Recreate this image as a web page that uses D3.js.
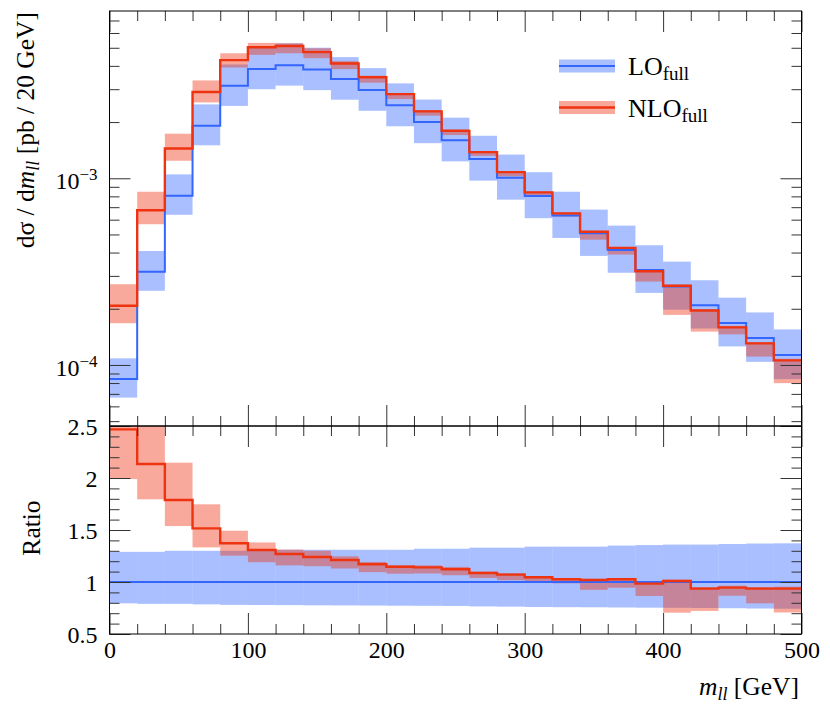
<!DOCTYPE html>
<html><head><meta charset="utf-8">
<script src="https://cdn.jsdelivr.net/npm/d3@7"></script>
<style>
body{margin:0;background:#fff}
svg text{font-family:"Liberation Serif","Times New Roman",serif;fill:#000}
</style>
</head><body>
<svg id="chart" width="830" height="708"></svg>
<script>
// ---- data ----
const binLow = [0,20,40,60,80,100,120,140,160,180,200,220,240,260,280,300,320,340,360,380,400,420,440,460,480];
const binWidth = 20;
const loValue = [8.41e-5,3.16e-4,8.07e-4,1.913e-3,3.13e-3,3.85e-3,4.03e-3,3.82e-3,3.40e-3,2.97e-3,2.46e-3,2.00e-3,1.60e-3,1.27e-3,1.007e-3,8.04e-4,6.32e-4,5.07e-4,4.13e-4,3.23e-4,2.63e-4,2.09e-4,1.68e-4,1.395e-4,1.13e-4];
// LO scale band, as ratio to LO central
const loUpRatio = [1.29,1.29,1.30,1.30,1.30,1.31,1.31,1.31,1.31,1.31,1.31,1.32,1.32,1.33,1.33,1.34,1.34,1.34,1.35,1.355,1.36,1.36,1.365,1.37,1.372];
const loDnRatio = [0.795,0.79,0.79,0.785,0.78,0.779,0.778,0.776,0.775,0.774,0.772,0.771,0.77,0.765,0.763,0.76,0.758,0.757,0.755,0.753,0.752,0.75,0.748,0.745,0.743];
// NLO central and band, as ratio to LO central
const nloRatio = [2.468,2.135,1.788,1.516,1.372,1.308,1.269,1.240,1.212,1.170,1.147,1.141,1.122,1.087,1.071,1.045,1.026,1.019,1.026,0.984,1.010,0.936,0.946,0.936,0.936];
const nloUpRatio = [3.22,2.68,2.147,1.747,1.493,1.38,1.312,1.30,1.247,1.193,1.161,1.16,1.145,1.10,1.085,1.055,1.035,1.03,1.035,0.995,1.022,0.95,0.965,0.95,0.955];
const nloDnRatio = [1.99,1.795,1.538,1.333,1.253,1.19,1.16,1.152,1.13,1.095,1.08,1.082,1.065,1.038,1.017,0.997,0.987,0.925,0.945,0.866,0.705,0.722,0.868,0.795,0.707];

const xMajorTicks = [0,100,200,300,400,500];
const xMinorTicks = [20,40,60,80,120,140,160,180,220,240,260,280,320,340,360,380,420,440,460,480];
const yTopMajor = [1e-4,1e-3];
const yTopMajorLabel = [["10","−4"],["10","−3"]];
const yTopMinor = [5e-5,6e-5,7e-5,8e-5,9e-5,2e-4,3e-4,4e-4,5e-4,6e-4,7e-4,8e-4,9e-4,2e-3,3e-3,4e-3,5e-3,6e-3,7e-3];
const yRatMajor = [0.5,1,1.5,2,2.5];
const yRatMinor = [0.6,0.7,0.8,0.9,1.1,1.2,1.3,1.4,1.6,1.7,1.8,1.9,2.1,2.2,2.3,2.4];
const legendNames = ["LO","NLO"];
const legendSub = "full";

// ---- styles ----
const blue = "#3366ff", red = "#ee3311";
const blueBand = "rgba(51,102,255,0.42)", redBand = "rgba(238,51,17,0.42)";
const fs = 24, fsTitle = 25.5;

const svg = d3.select("#chart");
const L = 109.5, R = 801.5, T1 = 11, B1 = 426, B2 = 634;
const x = d3.scaleLinear().domain([0,500]).range([L,R]);
const yTop = d3.scaleLog().domain([4.71e-5,7.87e-3]).range([B1,T1]);
const yRat = d3.scaleLinear().domain([0.5,2.5]).range([B2,B1]);

const defs = svg.append("defs");
defs.append("clipPath").attr("id","clipTop").append("rect").attr("x",L).attr("y",T1).attr("width",R-L).attr("height",B1-T1);
defs.append("clipPath").attr("id","clipRat").append("rect").attr("x",L).attr("y",B1).attr("width",R-L).attr("height",B2-B1);

const idx = d3.range(binLow.length);
function stepPts(vals){ const p = idx.map(i=>[binLow[i], vals[i]]); p.push([binLow[binLow.length-1]+binWidth, vals[vals.length-1]]); return p; }

// ---- top panel ----
const gTop = svg.append("g").attr("clip-path","url(#clipTop)");
gTop.selectAll("rect.lo").data(idx).join("rect")
  .attr("x",i=>x(binLow[i])).attr("width",i=>x(binLow[i]+binWidth)-x(binLow[i]))
  .attr("y",i=>yTop(loValue[i]*loUpRatio[i])).attr("height",i=>yTop(loValue[i]*loDnRatio[i])-yTop(loValue[i]*loUpRatio[i]))
  .attr("fill",blueBand);
gTop.selectAll("rect.nlo").data(idx).join("rect")
  .attr("x",i=>x(binLow[i])).attr("width",i=>x(binLow[i]+binWidth)-x(binLow[i]))
  .attr("y",i=>yTop(loValue[i]*nloUpRatio[i])).attr("height",i=>yTop(loValue[i]*nloDnRatio[i])-yTop(loValue[i]*nloUpRatio[i]))
  .attr("fill",redBand);
const lineTop = d3.line().x(d=>x(d[0])).y(d=>yTop(d[1])).curve(d3.curveStepAfter);
gTop.append("path").attr("d",lineTop(stepPts(loValue))).attr("fill","none").attr("stroke",blue).attr("stroke-width",2);
gTop.append("path").attr("d",lineTop(stepPts(idx.map(i=>loValue[i]*nloRatio[i])))).attr("fill","none").attr("stroke",red).attr("stroke-width",2.4);

// ---- ratio panel ----
const gRat = svg.append("g").attr("clip-path","url(#clipRat)");
gRat.selectAll("rect.lo").data(idx).join("rect")
  .attr("x",i=>x(binLow[i])).attr("width",i=>x(binLow[i]+binWidth)-x(binLow[i]))
  .attr("y",i=>yRat(loUpRatio[i])).attr("height",i=>yRat(loDnRatio[i])-yRat(loUpRatio[i]))
  .attr("fill",blueBand);
gRat.selectAll("rect.nlo").data(idx).join("rect")
  .attr("x",i=>x(binLow[i])).attr("width",i=>x(binLow[i]+binWidth)-x(binLow[i]))
  .attr("y",i=>yRat(nloUpRatio[i])).attr("height",i=>yRat(nloDnRatio[i])-yRat(nloUpRatio[i]))
  .attr("fill",redBand);
const lineRat = d3.line().x(d=>x(d[0])).y(d=>yRat(d[1])).curve(d3.curveStepAfter);
gRat.append("path").attr("d",lineRat(stepPts(idx.map(()=>1)))).attr("fill","none").attr("stroke",blue).attr("stroke-width",2);
gRat.append("path").attr("d",lineRat(stepPts(nloRatio))).attr("fill","none").attr("stroke",red).attr("stroke-width",2.4);

// ---- axes (inward ticks) ----
const tickCol = "#333";
function styleAxis(g){ g.select(".domain").remove(); g.selectAll(".tick line").attr("stroke",tickCol); g.attr("font-family",null).attr("font-size",fs); g.selectAll("text").attr("fill","#000"); return g; }
function ax(gen, tx, ty){ return styleAxis(svg.append("g").attr("transform",`translate(${tx},${ty})`).call(gen)); }
const MAJ = 21, MIN = 10;
[[T1,"top"],[B1,"bottom"],[B1,"top"],[B2,"bottom"]].forEach(([yy,side])=>{
  const mk = side==="top" ? d3.axisTop : d3.axisBottom;
  ax(mk(x).tickValues(xMajorTicks).tickSize(-MAJ).tickFormat(""), 0, yy);
  ax(mk(x).tickValues(xMinorTicks).tickSize(-MIN).tickFormat(""), 0, yy);
});
ax(d3.axisBottom(x).tickValues(xMajorTicks).tickSize(0).tickPadding(7).tickFormat(d3.format("d")), 0, B2);
ax(d3.axisLeft(yTop).tickValues(yTopMajor).tickSize(-MAJ).tickFormat(""), L, 0);
ax(d3.axisLeft(yTop).tickValues(yTopMinor).tickSize(-MIN).tickFormat(""), L, 0);
ax(d3.axisRight(yTop).tickValues(yTopMajor).tickSize(-MAJ).tickFormat(""), R, 0);
ax(d3.axisRight(yTop).tickValues(yTopMinor).tickSize(-MIN).tickFormat(""), R, 0);
const yl = ax(d3.axisLeft(yTop).tickValues(yTopMajor).tickSize(0).tickPadding(12).tickFormat(""), L, 0);
yl.selectAll(".tick text").each(function(d){
  const t = d3.select(this); const lab = yTopMajorLabel[yTopMajor.indexOf(d)];
  t.text(null).attr("dy","0.42em");
  t.append("tspan").text(lab[0]);
  t.append("tspan").attr("dy",-9).attr("font-size",17).text(lab[1]);
});
ax(d3.axisLeft(yRat).tickValues(yRatMajor).tickSize(-MAJ).tickFormat(""), L, 0);
ax(d3.axisLeft(yRat).tickValues(yRatMinor).tickSize(-MIN).tickFormat(""), L, 0);
ax(d3.axisRight(yRat).tickValues(yRatMajor).tickSize(-MAJ).tickFormat(""), R, 0);
ax(d3.axisRight(yRat).tickValues(yRatMinor).tickSize(-MIN).tickFormat(""), R, 0);
ax(d3.axisLeft(yRat).tickValues(yRatMajor).tickSize(0).tickPadding(12).tickFormat(d=>String(d)), L, 0)
  .selectAll(".tick text").attr("dy","0.36em");

svg.append("rect").attr("x",L).attr("y",T1).attr("width",R-L).attr("height",B1-T1).attr("fill","none").attr("stroke","#000").attr("stroke-width",1);
svg.append("rect").attr("x",L).attr("y",B1).attr("width",R-L).attr("height",B2-B1).attr("fill","none").attr("stroke","#000").attr("stroke-width",1);

// ---- axis titles ----
const yt = svg.append("text").attr("transform","translate(34,12) rotate(-90)").attr("text-anchor","end").attr("font-size",fsTitle);
yt.append("tspan").text("dσ / d");
yt.append("tspan").attr("font-style","italic").text("m");
yt.append("tspan").attr("font-style","italic").attr("font-size",18).attr("dy",5).text("ll");
yt.append("tspan").attr("dy",-5).text(" [pb / 20 GeV]");

svg.append("text").attr("transform","translate(40,528) rotate(-90)").attr("text-anchor","middle").attr("font-size",fsTitle).text("Ratio");

const xt = svg.append("text").attr("x",799).attr("y",695).attr("text-anchor","end").attr("font-size",fsTitle);
xt.append("tspan").attr("font-style","italic").text("m");
xt.append("tspan").attr("font-style","italic").attr("font-size",18).attr("dy",5).text("ll");
xt.append("tspan").attr("dy",-5).text(" [GeV]");

// ---- legend ----
const legY = [66,107.5];
const legCols = [[blue,blueBand],[red,redBand]];
const lg = svg.append("g");
legendNames.forEach((n,i)=>{
  lg.append("rect").attr("x",559).attr("y",legY[i]-6.5).attr("width",56).attr("height",13).attr("fill",legCols[i][1]);
  lg.append("line").attr("x1",559).attr("x2",615).attr("y1",legY[i]).attr("y2",legY[i]).attr("stroke",legCols[i][0]).attr("stroke-width",i?2.4:2);
  const t = lg.append("text").attr("x",628).attr("y",legY[i]+9).attr("font-size",26);
  t.append("tspan").text(n);
  t.append("tspan").attr("font-size",19).attr("dy",5).text(legendSub);
});
</script>
</body></html>
